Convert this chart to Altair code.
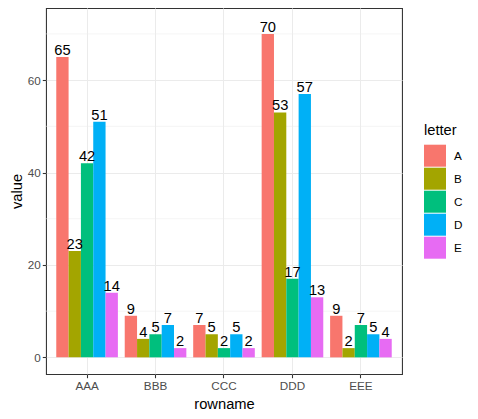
import altair as alt
import pandas as pd

rownames = ["AAA", "BBB", "CCC", "DDD", "EEE"]
letters = ["A", "B", "C", "D", "E"]
val_A = [65, 9, 7, 70, 9]
val_B = [23, 4, 5, 53, 2]
val_C = [42, 5, 2, 17, 7]
val_D = [51, 7, 5, 57, 5]
val_E = [14, 2, 2, 13, 4]
colors = ["#F8766D", "#A3A500", "#00BF7D", "#00B0F6", "#E76BF3"]
major_breaks = [0, 20, 40, 60]
minor_breaks = [10, 30, 50, 70]

rows = []
for letter, vals in zip(letters, [val_A, val_B, val_C, val_D, val_E]):
    for rn, v in zip(rownames, vals):
        rows.append({"rowname": rn, "letter": letter, "value": v})
df = pd.DataFrame(rows)
minor_df = pd.DataFrame({"v": minor_breaks})

yscale = alt.Scale(domain=[-3.6, 75.6], nice=False, zero=False)

x_enc = alt.X(
    "rowname:N",
    sort=rownames,
    scale=alt.Scale(paddingInner=0.1, paddingOuter=0.15),
    axis=alt.Axis(
        title="rowname",
        labelAngle=0,
        bandPosition=0.5,
        grid=True,
        gridColor="#EBEBEB",
        gridWidth=1.07,
        domain=False,
        tickColor="#333333",
        tickSize=3.7,
        tickWidth=1.07,
        labelPadding=3,
        labelColor="#4D4D4D",
        labelFontSize=11.7,
        titleFontSize=14.7,
        titleFontWeight="normal",
        titleColor="#000000",
        titlePadding=4,
        zindex=0,
    ),
)
y_enc = alt.Y(
    "value:Q",
    scale=yscale,
    axis=alt.Axis(
        title="value",
        values=major_breaks,
        format="d",
        grid=True,
        gridColor="#EBEBEB",
        gridWidth=1.07,
        domain=False,
        tickColor="#333333",
        tickSize=3.7,
        tickWidth=1.07,
        labelPadding=2,
        labelColor="#4D4D4D",
        labelFontSize=11.7,
        titleFontSize=14.7,
        titleFontWeight="normal",
        titleColor="#000000",
        titlePadding=3,
        zindex=0,
    ),
)
xoff = alt.XOffset("letter:N", sort=letters, scale=alt.Scale(paddingInner=0, paddingOuter=0))

minor = alt.Chart(minor_df).mark_rule(color="#EBEBEB", strokeWidth=0.55).encode(
    y=alt.Y("v:Q", scale=yscale)
)

bars = alt.Chart(df).mark_bar(stroke=None).encode(
    x=x_enc,
    xOffset=xoff,
    y=y_enc,
    fill=alt.Fill(
        "letter:N",
        sort=letters,
        scale=alt.Scale(domain=letters, range=colors),
        legend=alt.Legend(
            title="letter",
            orient="none",
            legendX=378,
            legendY=115,
            padding=0,
            titleFontSize=14.7,
            titleFontWeight="normal",
            titleColor="#000000",
            titlePadding=7,
            labelFontSize=11.7,
            labelColor="#000000",
            labelOffset=8,
            symbolType="square",
            symbolSize=484,
            symbolStrokeWidth=0,
            rowPadding=1,
        ),
    ),
)

labels = alt.Chart(df).mark_text(
    baseline="alphabetic", dy=-2, fontSize=14.7, color="#000000"
).encode(
    x=alt.X("rowname:N", sort=rownames),
    xOffset=xoff,
    y=alt.Y("value:Q", scale=yscale),
    text="value:Q",
)

chart = alt.layer(minor, bars, labels).properties(
    width=356,
    height=366,
    autosize=alt.AutoSizeParams(type="none"),
    padding={"left": 38, "top": 0, "right": 67, "bottom": 37},
).configure(
    font="Liberation Sans"
).configure_view(
    stroke="#333333", strokeWidth=1.07
)

chart.save("out.html", embed_options={"renderer": "svg", "actions": False})
